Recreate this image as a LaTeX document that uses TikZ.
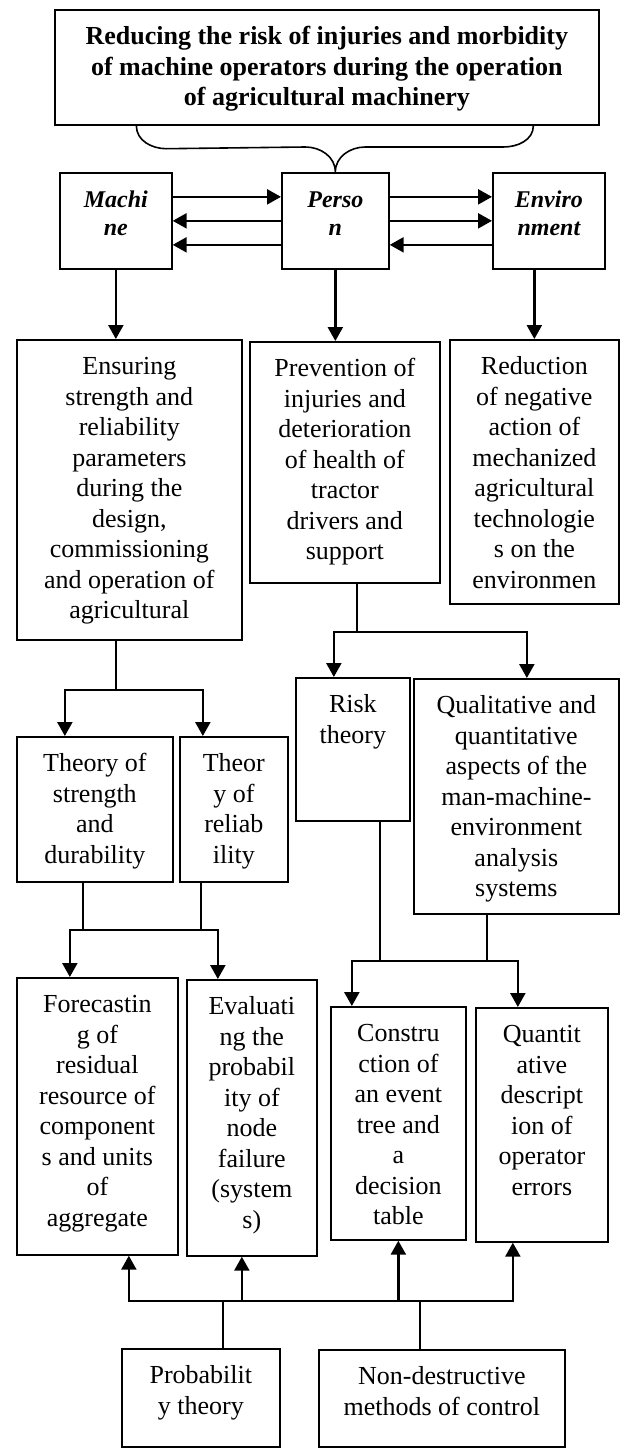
\documentclass[tikz,border=0pt]{standalone}
\usepackage{fontspec}
\setmainfont{Liberation Serif}
\usetikzlibrary{arrows.meta}
\newcommand{\boxtext}[3]{\parbox[c][#2][t]{#1}{\centering\rule{0pt}{35pt}#3}}

\begin{document}
\begin{tikzpicture}[x=1pt, y=-1pt,
    blk/.style={draw, line width=1.7pt, anchor=north west, inner sep=0pt, font=\fontsize{26}{30.5}\selectfont},
    mpe/.style={blk, font=\fontsize{24}{28}\selectfont\bfseries\itshape},
    ln/.style={line width=1.6pt},
    arr/.style={line width=2.4pt, -{Triangle[length=14pt,width=15pt]}}]
                    \useasboundingbox (0,0) rectangle (620,1448);
                    \node[blk, font=\fontsize{26}{30.5}\selectfont\bfseries] (goal) at (54,9) {\boxtext{544pt}{115pt}{Reducing the risk of injuries and morbidity\\ of machine operators during the operation\\ of agricultural machinery}};
                    \node[mpe] (mach) at (59,172) {\boxtext{112pt}{96pt}{Machi\\ ne}};
                    \node[mpe] (pers) at (281,172) {\boxtext{107pt}{96pt}{Perso\\ n}};
                    \node[mpe] (env) at (492,172) {\boxtext{112pt}{96pt}{Enviro\\ nment}};
                    \node[blk] (ens) at (16,339) {\boxtext{225pt}{300pt}{Ensuring\\ strength and\\ reliability\\ parameters\\ during the\\ design,\\ commissioning\\ and operation of\\ agricultural}};
                    \node[blk] (prev) at (249,341) {\boxtext{190pt}{241pt}{Prevention of\\ injuries and\\ deterioration\\ of health of\\ tractor\\ drivers and\\ support}};
                    \node[blk] (red) at (449,339) {\boxtext{169pt}{264pt}{Reduction\\ of negative\\ action of\\ mechanized\\ agricultural\\ technologie\\ s on the\\ environmen}};
                    \node[blk] (ts) at (16,736) {\boxtext{156pt}{145pt}{Theory of\\ strength\\ and\\ durability}};
                    \node[blk] (tr) at (179,736) {\boxtext{108pt}{145pt}{Theor\\ y of\\ reliab\\ ility}};
                    \node[blk] (risk) at (295,677) {\boxtext{114pt}{143pt}{Risk\\ theory}};
                    \node[blk] (qual) at (413,678) {\boxtext{205pt}{235pt}{Qualitative and\\ quantitative\\ aspects of the\\ man-machine-\\ environment\\ analysis\\ systems}};
                    \node[blk] (fc) at (16,977) {\boxtext{161pt}{277pt}{Forecastin\\ g of\\ residual\\ resource of\\ component\\ s and units\\ of\\ aggregate}};
                    \node[blk] (ev) at (186,979) {\boxtext{130pt}{276pt}{Evaluati\\ ng the\\ probabil\\ ity of\\ node\\ failure\\ (system\\ s)}};
                    \node[blk] (con) at (330,1006) {\boxtext{135pt}{233pt}{Constru\\ ction of\\ an event\\ tree and\\ a\\ decision\\ table}};
                    \node[blk] (qd) at (475,1007) {\boxtext{132pt}{234pt}{Quantit\\ ative\\ descript\\ ion of\\ operator\\ errors}};
                    \node[blk] (prob) at (121,1348) {\boxtext{158pt}{98pt}{Probabilit\\ y theory}};
                    \node[blk] (nd) at (318,1349) {\boxtext{246pt}{97pt}{Non-destructive\\ methods of control}};
                    % brace
                    \draw[ln] ([xshift=-199pt]pers.north |- goal.south) to[out=-90,in=180] ++(30,23) -- ([xshift=-30pt,yshift=25pt]pers.north) to[out=0,in=90] (pers.north) to[out=90,in=180] ([xshift=30pt,yshift=25pt]pers.north) -- ([xshift=168pt,yshift=25pt]pers.north) to[out=0,in=-90] ([xshift=198pt]pers.north |- goal.south);
                    \foreach \a/\b/\s in {mach.east/pers.west/24, pers.west/mach.east/0, pers.west/mach.east/-24, pers.east/env.west/24, pers.east/env.west/0, env.west/pers.east/-24}
                        {\draw[arr] ([yshift=\s pt]\a) -- ([yshift=\s pt]\b);}
                    \draw[arr] (mach.south) -- (mach.south |- ens.north);
                    \draw[arr] (pers.south) -- (pers.south |- prev.north);
                    \draw[arr] (env.south -| red.north) -- (red.north);
                    % forks
                    \draw[ln] (mach.south |- ens.south) -- ++(0,49) coordinate (j1);
                    \draw[arr] (j1) -| ([xshift=-30pt]ts.north);
                    \draw[arr] (j1) -| ([xshift=-31pt]tr.north);
                    \draw[ln] ([xshift=12pt]prev.south) -- ++(0,48) coordinate (j2);
                    \draw[arr] (j2) -| ([xshift=-19pt]risk.north);
                    \draw[arr] (j2) -| ([xshift=10.5pt]qual.north);
                    \draw[ln] ([xshift=-12pt]ts.south) -- ++(0,47) coordinate (j3);
                    \draw[ln] ([xshift=-33pt]tr.south) -- ([xshift=-33pt]tr.south |- j3);
                    \draw[arr] (j3) -| ([xshift=-27.5pt]fc.north);
                    \draw[arr] (j3) -| ([xshift=-34pt]ev.north);
                    \draw[ln] ([xshift=27pt]risk.south) -- ++(0,139) coordinate (j4);
                    \draw[ln] ([xshift=-29.5pt]qual.south) -- ([xshift=-29.5pt]qual.south |- j4);
                    \draw[arr] (j4) -| ([xshift=-46.5pt]con.north);
                    \draw[arr] (j4) -| ([xshift=-24pt]qd.north);
                    % bottom
                    \draw[ln] ([xshift=22pt]prob.north) -- ++(0,-47) coordinate (j5);
                    \draw[ln] ([xshift=-22pt]nd.north) -- ([xshift=-22pt]nd.north |- j5);
                    \foreach \n/\s in {fc/31.5, ev/-10, con/0, qd/-29}
                        {\draw[arr] (j5) -| ([xshift=\s pt]\n.south);}
                \end{tikzpicture}
\end{document}
